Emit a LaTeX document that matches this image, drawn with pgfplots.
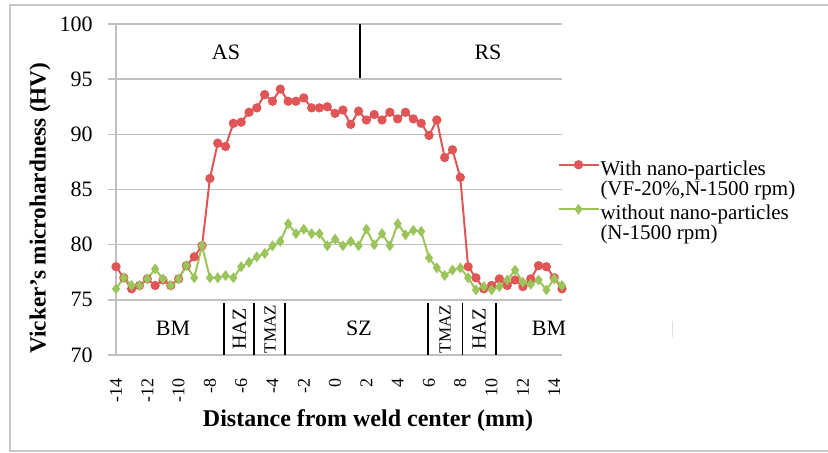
\documentclass[border=0pt]{standalone}
\usepackage{fontspec}
\setmainfont{Liberation Serif}
\usepackage{pgfplots}
\usepackage{pgfplotstable}
\pgfplotsset{compat=1.18}
\definecolor{nanored}{HTML}{E05555}
\definecolor{nanogreen}{HTML}{9BC55A}
\definecolor{gridgray}{HTML}{BFBFBF}
\definecolor{framegray}{HTML}{C8C8C8}

% distance (mm), with nano-particles, without nano-particles
\pgfplotstableread{
x     red   green
-14   78.0  76.0
-13.5 77.0  77.0
-13   76.0  76.3
-12.5 76.3  76.3
-12   76.9  76.9
-11.5 76.3  77.8
-11   76.8  76.9
-10.5 76.3  76.3
-10   76.9  76.9
-9.5  78.1  78.1
-9    78.9  77.0
-8.5  79.9  79.9
-8    86.0  77.0
-7.5  89.2  77.0
-7    88.9  77.2
-6.5  91.0  77.0
-6    91.1  78.0
-5.5  92.0  78.4
-5    92.4  78.9
-4.5  93.6  79.2
-4    93.0  79.9
-3.5  94.1  80.3
-3    93.0  81.9
-2.5  93.0  81.0
-2    93.3  81.4
-1.5  92.4  81.0
-1    92.4  81.0
-0.5  92.5  79.9
0     91.9  80.5
0.5   92.2  79.9
1     90.9  80.3
1.5   92.1  79.9
2     91.3  81.4
2.5   91.8  80.0
3     91.3  81.0
3.5   92.0  79.9
4     91.4  81.9
4.5   92.0  80.9
5     91.4  81.3
5.5   91.0  81.2
6     89.9  78.8
6.5   91.3  77.9
7     87.9  77.2
7.5   88.6  77.7
8     86.1  77.9
8.5   78.0  77.0
9     77.0  75.9
9.5   76.0  76.2
10    76.3  75.9
10.5  76.9  76.2
11    76.3  76.8
11.5  76.8  77.7
12    76.2  76.6
12.5  76.9  76.4
13    78.1  76.8
13.5  78.0  75.9
14    77.0  76.9
14.5  76.0  76.3
}\hardness

\begin{document}
\begin{tikzpicture}
\path[use as bounding box] (0,0) rectangle (414pt,226pt);
\draw[framegray, line width=0.75pt] (5pt,0.5pt) rectangle (420pt,223.5pt);
\begin{axis}[
  at={(58pt,48.5pt)}, anchor=south west,
  scale only axis, width=223pt, height=165.5pt,
  xmin=-14, xmax=14.5, ymin=70, ymax=100,
  xtick={-14,-12,...,14},
  xticklabels={-14,-12,-10,-8,-6,-4,-2,0,2,4,6,8,10,12,14},
  ytick={70,75,...,100},
  /pgf/number format/assume math mode=true,
  axis x line*=bottom, axis y line*=left,
  axis line style={-, draw=gridgray, line width=0.75pt},
  ymajorgrids, major grid style={draw=gridgray, line width=0.75pt},
  tick align=outside, major tick length=4pt,
  xtick style={draw=none}, ytick style={draw=gridgray, line width=0.75pt},
  xticklabel style={rotate=90, anchor=east, inner sep=0pt, font=\fontsize{9}{9}\selectfont},
  yticklabel style={inner sep=0pt, font=\fontsize{11}{11}\selectfont},
  xticklabel shift=7.5pt, yticklabel shift=7.5pt,
  clip=false,
  legend style={at={(rel axis cs:0.989,0.601)}, anchor=north west, draw=none, fill=none,
    inner sep=0pt, row sep=-0.5pt, column sep=-1.5pt, font=\fontsize{10.5}{10}\selectfont,
    cells={anchor=west, align=left, inner xsep=0.5pt}},
  legend image code/.code={
    \draw[mark repeat=2, mark phase=2] plot coordinates {(0pt,7.25pt) (10pt,7.25pt) (20pt,7.25pt)};},
]
\addplot[nanored, line width=1pt, mark=*, mark size=1.8pt, mark options={fill=nanored}]
  table[x=x, y=red] {\hardness};
\addlegendentry{With nano-particles\\(VF-20\%,N-1500 rpm)}
\addplot[nanogreen, line width=1pt, mark=diamond*, mark size=1.9pt, mark options={fill=nanogreen}]
  table[x=x, y=green] {\hardness};
\addlegendentry{without nano-particles\\(N-1500 rpm)}

% zone labels
\draw[black, line width=0.8pt] (axis cs:1.59,100) -- (axis cs:1.59,95.1);
\node[font=\fontsize{11}{11}\selectfont] at (axis cs:-6.97,97.46) {AS};
\node[font=\fontsize{11}{11}\selectfont] at (axis cs:9.77,97.46) {RS};
\pgfplotsinvokeforeach{-7.10,-5.18,-3.20,5.92,8.13,10.28}{
  \draw[black, line width=0.8pt] (axis cs:#1,74.7) -- (axis cs:#1,70);
}
\node[font=\fontsize{11}{11}\selectfont] at (axis cs:-10.36,72.4) {BM};
\node[font=\fontsize{11}{11}\selectfont] at (axis cs:13.67,72.4) {BM};
\node[font=\fontsize{11}{11}\selectfont] at (axis cs:1.53,72.4) {SZ};
\node[rotate=90, font=\fontsize{10}{10}\selectfont] at (axis cs:-6.12,72.35) {HAZ};
\node[rotate=90, font=\fontsize{8.5}{8.5}\selectfont] at (axis cs:-4.16,72.35) {TMAZ};
\node[rotate=90, font=\fontsize{8.5}{8.5}\selectfont] at (axis cs:7.02,72.35) {TMAZ};
\node[rotate=90, font=\fontsize{10}{10}\selectfont] at (axis cs:9.19,72.35) {HAZ};
\end{axis}
\node[rotate=90, font=\bfseries\fontsize{11.6}{11.6}\selectfont] at (20pt,122pt) {Vicker’s microhardness (HV)};
\node[font=\bfseries\fontsize{12}{12}\selectfont] at (184pt,15.5pt) {Distance from weld center (mm)};
\draw[gray!25, line width=0.8pt] (336.3pt,65.5pt) -- (336.3pt,57.5pt);
\end{tikzpicture}
\end{document}
